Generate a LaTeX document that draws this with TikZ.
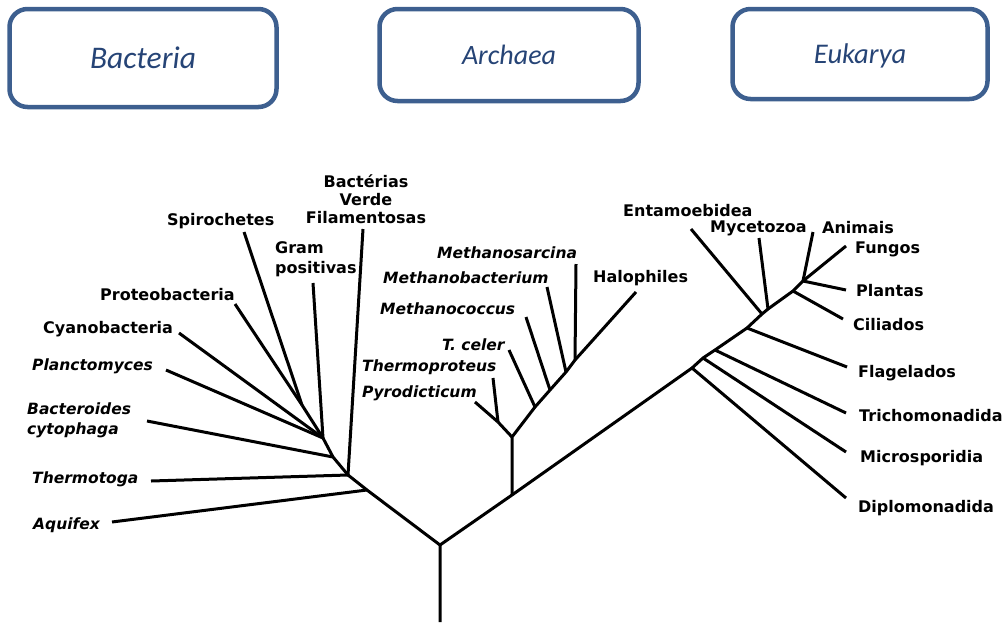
\documentclass[tikz,border=0pt]{standalone}
\usepackage{fontspec}
\newfontfamily\treefont{DejaVu Sans}
\newfontfamily\domainfont{Carlito}
\usetikzlibrary{calc}

\definecolor{domainline}{RGB}{61,95,143}
\definecolor{domaintext}{RGB}{38,68,118}

\tikzset{
  domainbox/.style={draw=domainline, line width=4.5pt, rounded corners=18pt,
    text=domaintext, inner sep=0pt, text depth=0pt},
  branch/.style={line width=3pt, line join=round},
  taxon/.style={font=\fontsize{16}{20}\selectfont\treefont\bfseries,
    inner sep=0pt, anchor=west},
  taxonit/.style={taxon, font=\fontsize{15.5}{20}\selectfont\treefont\bfseries\itshape}
}

\begin{document}
\begin{tikzpicture}[x=1pt,y=-1pt]
    \useasboundingbox (0,0) rectangle (1006,622);

    % domains
    \node [domainbox, minimum width=267pt, minimum height=98pt, font=\fontsize{31.5}{31.5}\selectfont\domainfont\itshape] (bact) at (143,58) {Bacteria};
    \node [domainbox, minimum width=259pt, minimum height=92pt, font=\fontsize{28}{28}\selectfont\domainfont\itshape] (arch) at (509,55) {Archaea};
    \node [domainbox, minimum width=255pt, minimum height=90pt, font=\fontsize{28.5}{28.5}\selectfont\domainfont\itshape] (euk) at (860,54) {Eukarya};

    % branch points
    \coordinate (root) at (440,622);
    \coordinate (r) at (440,545);
    \coordinate (b1) at (367,490);
    \coordinate (b2) at (348,475);
    \coordinate (b3) at (333,457);
    \coordinate (b4) at (323,438);
    \coordinate (b5) at (302,405);
    \coordinate (a0) at (512,495);
    \coordinate (a1) at (512,437);
    \coordinate (a2) at (498,422);
    \coordinate (a3) at (535,407);
    \coordinate (a4) at (550,390);
    \coordinate (a5) at (566,372);
    \coordinate (a6) at (575,360);
    \coordinate (e1) at (692,368);
    \coordinate (e2) at (703,358);
    \coordinate (e3) at (715,350);
    \coordinate (e4) at (747,328);
    \coordinate (e5) at (762,314);
    \coordinate (e6) at (768,309);
    \coordinate (e7) at (793,291);
    \coordinate (e8) at (803,281);

    % leaf ends
    \coordinate (aquifex-t) at (112,522);
    \coordinate (thermotoga-t) at (151,481);
    \coordinate (verde-t) at (363,229);
    \coordinate (bacter-t) at (147,421);
    \coordinate (planc-t) at (166,370);
    \coordinate (cyano-t) at (179,333);
    \coordinate (gram-t) at (313,283);
    \coordinate (proteo-t) at (235,304);
    \coordinate (spiro-t) at (244,232);
    \coordinate (pyro-t) at (475,402);
    \coordinate (tprot-t) at (493,378);
    \coordinate (tceler-t) at (509,350);
    \coordinate (mcocc-t) at (526,317);
    \coordinate (mbact-t) at (547,287);
    \coordinate (msarc-t) at (576,264);
    \coordinate (halo-t) at (636,292);
    \coordinate (diplo-t) at (846,498);
    \coordinate (micro-t) at (846,452);
    \coordinate (tricho-t) at (846,413);
    \coordinate (flag-t) at (847,367);
    \coordinate (entam-t) at (691,229);
    \coordinate (myceto-t) at (759,238);
    \coordinate (cili-t) at (843,319);
    \coordinate (anim-t) at (813,232);
    \coordinate (fung-t) at (846,246);
    \coordinate (plant-t) at (846,290);

    % labels
    \node [taxon, anchor=north, align=center, font=\fontsize{16}{18}\selectfont\treefont\bfseries] (verde) at (366,174) {Bactérias\\Verde\\Filamentosas};
    \node [taxon] (spiro) at (167,221) {Spirochetes};
    \node [taxon, anchor=north west, align=left] (gram) at (275,241) {Gram\\positivas};
    \node [taxon] (proteo) at (100,295) {Proteobacteria};
    \node [taxon] (cyano) at (43,329) {Cyanobacteria};
    \node [taxonit] (planc) at (32,366) {Planctomyces};
    \node [taxonit, anchor=north west, align=left] (bacter) at (27,403) {Bacteroides\\cytophaga};
    \node [taxonit] (thermotoga) at (32,479) {Thermotoga};
    \node [taxonit] (aquifex) at (33,525) {Aquifex};

    \node [taxonit] (msarc) at (437,253) {Methanosarcina};
    \node [taxonit] (mbact) at (383,278) {Methanobacterium};
    \node [taxonit] (mcocc) at (380,309) {Methanococcus};
    \node [taxonit] (tceler) at (442,345) {T. celer};
    \node [taxonit] (tprot) at (362,367) {Thermoproteus};
    \node [taxonit] (pyro) at (362,393) {Pyrodicticum};
    \node [taxon] (halo) at (593,278) {Halophiles};

    \node [taxon] (entam) at (623,211) {Entamoebidea};
    \node [taxon] (myceto) at (710,228) {Mycetozoa};
    \node [taxon] (anim) at (822,228) {Animais};
    \node [taxon] (fung) at (855,249) {Fungos};
    \node [taxon] (plant) at (856,291) {Plantas};
    \node [taxon] (cili) at (853,325) {Ciliados};
    \node [taxon] (flag) at (858,373) {Flagelados};
    \node [taxon] (tricho) at (859,416) {Trichomonadida};
    \node [taxon] (micro) at (860,458) {Microsporidia};
    \node [taxon] (diplo) at (858,508) {Diplomonadida};

    % trunk
    \draw [branch] (root) -- (r) -- (b1) -- (b2) -- (b3) -- (b4) -- (b5);
    \draw [branch] (r) -- (a0) -- (e1) -- (e2) -- (e3) -- (e4) -- (e5) -- (e6) -- (e7) -- (e8);
    \draw [branch] (a0) -- (a1) -- (a3) -- (a4) -- (a5) -- (a6) -- (halo-t);
    \draw [branch] (a1) -- (a2);

    % bacteria
    \draw [branch] (b1) -- (aquifex-t);
    \draw [branch] (b2) -- (thermotoga-t);
    \draw [branch] (b2) -- (verde-t);
    \draw [branch] (b3) -- (bacter-t);
    \draw [branch] (b4) -- (planc-t);
    \draw [branch] (b4) -- (cyano-t);
    \draw [branch] (b4) -- (gram-t);
    \draw [branch] (b5) -- (proteo-t);
    \draw [branch] (b5) -- (spiro-t);

    % archaea
    \draw [branch] (a2) -- (pyro-t);
    \draw [branch] (a2) -- (tprot-t);
    \draw [branch] (a3) -- (tceler-t);
    \draw [branch] (a4) -- (mcocc-t);
    \draw [branch] (a5) -- (mbact-t);
    \draw [branch] (a6) -- (msarc-t);

    % eukarya
    \draw [branch] (e1) -- (diplo-t);
    \draw [branch] (e2) -- (micro-t);
    \draw [branch] (e3) -- (tricho-t);
    \draw [branch] (e4) -- (flag-t);
    \draw [branch] (e5) -- (entam-t);
    \draw [branch] (e6) -- (myceto-t);
    \draw [branch] (e7) -- (cili-t);
    \draw [branch] (e8) -- (anim-t);
    \draw [branch] (e8) -- (fung-t);
    \draw [branch] (e8) -- (plant-t);
\end{tikzpicture}
\end{document}
